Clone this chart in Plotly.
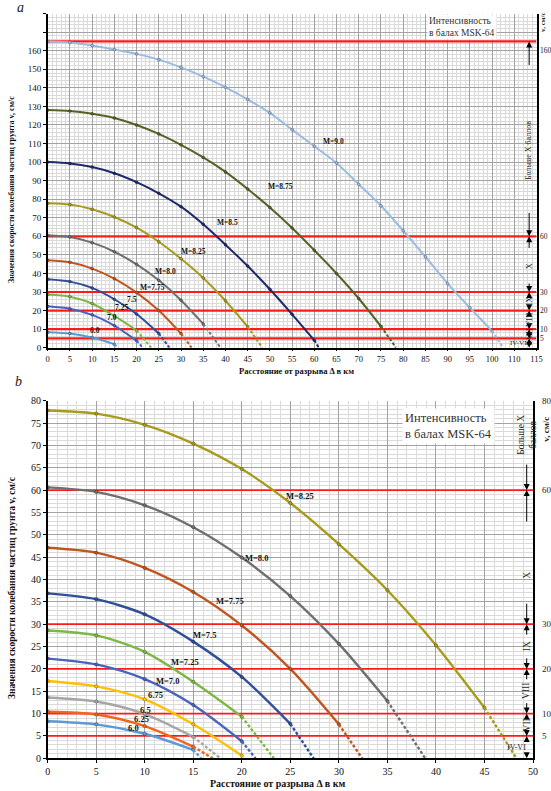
import plotly.graph_objects as go

W, H = 551, 791
FONT = "Liberation Serif"

# ---------------- data ----------------
distance_km = [0, 5, 10, 15, 20, 25, 30, 35, 40, 45, 50, 55, 60, 65, 70, 75, 80, 85, 90, 95, 100]

magnitudes = ["6.0", "6.25", "6.5", "6.75", "7.0", "7.25", "7.5", "7.75", "8.0", "8.25", "8.5", "8.75", "9.0"]

v_m60 = [8.3, 7.6, 5.5, 1.9]
v_m625 = [10.4, 9.8, 7.2, 2.6]
v_m65 = [13.6, 12.7, 9.9, 4.8]
v_m675 = [17.3, 16.1, 13.2, 7.6, 0.6]
v_m70 = [22.3, 21.0, 17.7, 11.9, 3.8]
v_m725 = [28.6, 27.5, 23.8, 17.1, 9.3]
v_m75 = [36.9, 35.6, 32.2, 26.1, 18.2, 7.7]
v_m775 = [47.1, 46.0, 42.6, 37.2, 29.7, 20.0, 7.6]
v_m80 = [60.6, 59.6, 56.6, 51.7, 44.9, 36.3, 25.6, 12.8]
v_m825 = [77.8, 77.1, 74.6, 70.4, 64.7, 57.1, 47.9, 37.6, 25.3, 11.3]
v_m85 = [100.0, 99.3, 97.3, 94.0, 89.2, 83.2, 76.0, 66.5, 55.5, 44.0, 31.5, 18.0, 4.0]
v_m875 = [128.0, 127.5, 126.0, 123.8, 120.0, 115.2, 109.3, 102.5, 94.7, 85.5, 75.5, 64.5, 52.5, 40.0, 26.5, 11.5]
v_m90 = [165.0, 164.4, 162.8, 160.6, 158.3, 155.2, 151.0, 146.0, 140.3, 133.8, 126.5, 117.5,
         108.5, 99.5, 88.0, 76.5, 63.0, 49.0, 34.5, 21.5, 9.0]

# distance where the dashed extension reaches v = 0 (None: no extension)
zero_reach_km = [15.8, 17.0, 17.8, None, 21.4, 23.3, 27.4, 32.4, 38.9, 48.3, 61.0, 78.4, 102.5]

series = [v_m60, v_m625, v_m65, v_m675, v_m70, v_m725, v_m75, v_m775, v_m80, v_m825, v_m85, v_m875, v_m90]

colors = ["#5b9bd5", "#f0641e", "#a6a6a6", "#ffc000", "#4a63bd", "#7cb843", "#2f4f98",
          "#c0561f", "#6f6f6f", "#a89b1c", "#1f2a6b", "#546426", "#9bbbe0"]

top_magnitudes = ["6.0", "7.0", "7.25", "7.5", "7.75", "8.0", "8.25", "8.5", "8.75", "9.0"]
bottom_magnitudes = ["6.0", "6.25", "6.5", "6.75", "7.0", "7.25", "7.5", "7.75", "8.0", "8.25"]

top_boundaries = [165, 60, 30, 20, 10, 5]
bottom_boundaries = [60, 30, 20, 10, 5]

top_x_ticks = [0, 5, 10, 15, 20, 25, 30, 35, 40, 45, 50, 55, 60, 65, 70, 75, 80, 85, 90, 95, 100, 105, 110]
top_x_labels = ["0", "5", "10", "15", "20", "25", "30", "35", "40", "45", "50", "55", "60", "65",
                "70", "75", "80", "85", "90", "95", "100", "110", "115"]
top_y_ticks = [0, 10, 20, 30, 40, 50, 60, 70, 80, 90, 100, 110, 120, 130, 140, 150, 160, 170, 180]
top_y_labels = ["0", "10", "20", "30", "40", "50", "60", "70", "80", "90", "100", "110", "120",
                "130", "140", "150", "160", "", ""]
top_right_labels = [160, 60, 30, 20, 10, 5]
bottom_right_labels = [80, 60, 30, 20, 10, 5]

# curve label placement (distance, velocity)
top_label_text = ["6.0", "7.0", "7.25", "7.5", "M=7.75", "M=8.0", "M=8.25", "M=8.5", "M=8.75", "M=9.0"]
top_label_pos = [(10.7, 9.5), (14.5, 16.5), (16.7, 21.4), (19.0, 26.2), (23.5, 32.7), (26.4, 41.3),
                 (32.8, 51.6), (40.4, 67.2), (52.4, 86.6), (64.3, 111.3)]
bottom_label_text = ["6.0", "6.25", "6.5", "6.75", "M=7.0", "M=7.25", "M=7.5", "M=7.75", "M=8.0", "M=8.25"]
bottom_label_pos = [(8.8, 6.8), (9.7, 8.7), (10.1, 10.9), (11.1, 14.2), (12.4, 17.3), (14.1, 21.6),
                    (16.2, 27.6), (18.8, 35.2), (21.6, 44.8), (26.0, 58.7)]

# intensity bands on the right side
top_band_labels = [(106, "Больше X баллов"), (44, "X"), (25, "IX"), (15, "VIII"), (7.5, "VII")]
top_arrows = [(165, 25), (60, -25), (60, 13), (30, -10), (30, 5), (20, -5), (20, 5), (10, -5),
              (10, 4), (5, -4), (5, 4), (0, -4)]
bottom_band_labels = [(72.3, "Больше X<br>баллов"), (41, "X"), (25, "IX"), (15, "VIII"), (7.5, "VII")]
bottom_arrows = [(60, -27), (60, 33), (30, -22), (30, 12), (20, -12), (20, 12), (10, -12),
                 (10, 6), (5, -6), (5, 6), (0, -6)]


def P(xpx, ypx):
    return xpx / W, 1 - ypx / H


fig = go.Figure()

# red intensity boundary lines (drawn first: above grid, below curves)
for b in top_boundaries:
    fig.add_trace(go.Scatter(x=[0, 110], y=[b, b], mode="lines", xaxis="x", yaxis="y",
                             line=dict(color="#ff1a1a", width=2.2), showlegend=False, hoverinfo="skip"))
for b in bottom_boundaries:
    fig.add_trace(go.Scatter(x=[0, 50], y=[b, b], mode="lines", xaxis="x2", yaxis="y2",
                             line=dict(color="#ff1a1a", width=1.8), showlegend=False, hoverinfo="skip"))


def add_curves(mags, xa, ya, lw, ms):
    for m in mags:
        i = magnitudes.index(m)
        vals = series[i]
        xs = distance_km[:len(vals)]
        fig.add_trace(go.Scatter(
            x=xs, y=vals, mode="lines+markers", xaxis=xa, yaxis=ya,
            line=dict(color=colors[i], width=lw, shape="spline", smoothing=0.8),
            marker=dict(color=colors[i], size=ms, line=dict(width=0.5, color="rgba(0,0,0,0.5)")),
            showlegend=False, hoverinfo="skip"))
        if zero_reach_km[i] is not None:
            fig.add_trace(go.Scatter(
                x=[xs[-1], zero_reach_km[i]], y=[vals[-1], 0], mode="lines", xaxis=xa, yaxis=ya,
                line=dict(color=colors[i], width=lw, dash="3px,2px"),
                showlegend=False, hoverinfo="skip"))


add_curves(top_magnitudes, "x", "y", 2.0, 3)
add_curves(bottom_magnitudes, "x2", "y2", 2.4, 3.5)

ann = []


def A(**kw):
    d = dict(showarrow=False, xanchor="center", yanchor="middle")
    d.update(kw)
    ann.append(d)


# curve labels
for t, (x, y) in zip(top_label_text, top_label_pos):
    A(x=x, y=y, xref="x", yref="y", text="<b>%s</b>" % t, font=dict(family=FONT, size=7.5, color="#111"))
for t, (x, y) in zip(bottom_label_text, bottom_label_pos):
    A(x=x, y=y, xref="x2", yref="y2", text="<b>%s</b>" % t, font=dict(family=FONT, size=8.5, color="#111"))

# right side intensity bands
for (v, ay) in top_arrows:
    A(x=0.985, xref="x domain", y=v, yref="y", ax=0, ay=ay, showarrow=True, arrowhead=2,
      arrowsize=1.2, arrowwidth=1, arrowcolor="black", text="", standoff=0)
for (v, t) in top_band_labels:
    A(x=0.985, xref="x domain", y=v, yref="y", text=t, textangle=-90,
      font=dict(family=FONT, size=8 if len(t) > 4 else 8.5, color="#222"))
A(x=518 / W, xref="paper", y=2.5, yref="y", text="IV-VI", font=dict(family=FONT, size=7, color="#222"))

for (v, ay) in bottom_arrows:
    A(x=0.987, xref="x2 domain", y=v, yref="y2", ax=0, ay=ay, showarrow=True, arrowhead=2,
      arrowsize=1.2, arrowwidth=1, arrowcolor="black", text="", standoff=0)
for (v, t) in bottom_band_labels:
    A(x=0.987, xref="x2 domain", y=v, yref="y2", text=t, textangle=-90,
      font=dict(family=FONT, size=9.5, color="#222"))
A(x=516 / W, xref="paper", y=2.5, yref="y2", text="IV-VI", font=dict(family=FONT, size=8, color="#222"))

# right axis labels
for v in top_right_labels:
    A(x=538 / W, xref="paper", y=v, yref="y", text=str(v), xanchor="left",
      font=dict(family=FONT, size=7.5, color="#222"))
for v in bottom_right_labels:
    A(x=540 / W, xref="paper", y=v, yref="y2", text=str(v), xanchor="left",
      font=dict(family=FONT, size=9, color="#222"))
A(x=543 / W, xref="paper", y=175.5, yref="y", text="<b>v, см/с</b>", textangle=-90,
  font=dict(family=FONT, size=7, color="#222"))
A(x=546 / W, xref="paper", y=73.5, yref="y2", text="<b>v, см/с</b>", textangle=-90,
  font=dict(family=FONT, size=9, color="#222"))

# intensity legend boxes
x, y = P(462, 27)
A(x=x, y=y, xref="paper", yref="paper", text="Интенсивность<br>в балах MSK-64", align="left",
  bgcolor="white", borderpad=1, font=dict(family=FONT, size=9.5, color="#333"))
x, y = P(448, 426)
A(x=x, y=y, xref="paper", yref="paper", text="Интенсивность<br>в балах MSK-64", align="left",
  bgcolor="white", borderpad=2, font=dict(family=FONT, size=12.5, color="#333"))

# axis titles and panel letters
x, y = P(12, 190)
A(x=x, y=y, xref="paper", yref="paper", text="<b>Значения скорости колебания частиц грунта v, см/с</b>",
  textangle=-90, font=dict(family=FONT, size=8, color="#111"))
x, y = P(12, 588)
A(x=x, y=y, xref="paper", yref="paper", text="<b>Значения скорости колебания частиц грунта v, см/с</b>",
  textangle=-90, font=dict(family=FONT, size=9.5, color="#111"))
x, y = P(296, 371)
A(x=x, y=y, xref="paper", yref="paper", text="<b>Расстояние от разрыва Δ в км</b>",
  font=dict(family=FONT, size=8.5, color="#111"))
x, y = P(277, 783)
A(x=x, y=y, xref="paper", yref="paper", text="<b>Расстояние от разрыва Δ в км</b>",
  font=dict(family=FONT, size=10, color="#111"))
x, y = P(20, 7)
A(x=x, y=y, xref="paper", yref="paper", text="<i>a</i>", font=dict(family=FONT, size=14, color="#222"))
x, y = P(18, 381)
A(x=x, y=y, xref="paper", yref="paper", text="<i>b</i>", font=dict(family=FONT, size=14, color="#222"))

major_grid = "#a3a3a3"
minor_grid = "#dadada"


def axis(**kw):
    d = dict(showline=True, linecolor="black", linewidth=1.5, ticks="outside", ticklen=3,
             tickcolor="black", showgrid=True, gridcolor=major_grid, gridwidth=0.9, zeroline=False,
             tickfont=dict(family=FONT, size=9, color="#111"))
    d.update(kw)
    return d


fig.update_layout(
    width=W, height=H, margin=dict(l=0, r=0, t=0, b=0, autoexpand=False),
    paper_bgcolor="white", plot_bgcolor="white", showlegend=False,
    xaxis=axis(domain=[47.7 / W, 536.5 / W], range=[0, 110], tickmode="array",
               tickvals=top_x_ticks, ticktext=top_x_labels, anchor="y", ticklen=2,
               tickfont=dict(family=FONT, size=8.5, color="#111"),
               minor=dict(dtick=1, tick0=0, showgrid=True, gridcolor=minor_grid, gridwidth=0.6)),
    yaxis=axis(domain=[1 - 347.7 / H, 1 - 13.6 / H], range=[0, 180], tickmode="array",
               tickvals=top_y_ticks, ticktext=top_y_labels, anchor="x", mirror=True,
               minor=dict(dtick=2, tick0=0, showgrid=True, gridcolor=minor_grid, gridwidth=0.6)),
    xaxis2=axis(domain=[47.7 / W, 533 / W], range=[0, 50], dtick=5, tick0=0, anchor="y2",
                tickfont=dict(family=FONT, size=10, color="#111"),
                minor=dict(dtick=1, tick0=0, showgrid=True, gridcolor=minor_grid, gridwidth=0.6)),
    yaxis2=axis(domain=[1 - 758.3 / H, 1 - 400.7 / H], range=[0, 80], dtick=5, tick0=0, anchor="x2",
                mirror=True, tickfont=dict(family=FONT, size=10, color="#111"),
                minor=dict(dtick=1, tick0=0, showgrid=True, gridcolor=minor_grid, gridwidth=0.6)),
    annotations=ann,
)

fig.write_html("out.html", config={"displayModeBar": False},
               post_script="document.body.style.margin='0px';")
